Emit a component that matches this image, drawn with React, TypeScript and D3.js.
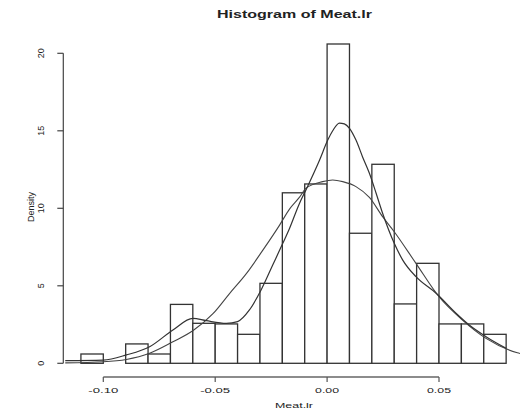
import React from 'react';
import * as d3 from 'd3';

// histogram bins (left edges, width 0.01) and densities
const binStarts = [-0.11, -0.10, -0.09, -0.08, -0.07, -0.06, -0.05, -0.04, -0.03, -0.02, -0.01, 0.0, 0.01, 0.02, 0.03, 0.04, 0.05, 0.06, 0.07];
const binWidth = 0.01;
const densities = [0.6, 0, 1.25, 0.6, 3.8, 2.58, 2.54, 1.87, 5.16, 11.0, 11.57, 20.6, 8.39, 12.84, 3.83, 6.45, 2.54, 2.54, 1.87];

// kernel density curve
const kdeX = [-0.117, -0.1, -0.0897, -0.0793, -0.0689, -0.06, -0.054, -0.045, -0.04, -0.0347, -0.0295, -0.0243, -0.0198, -0.0168, -0.0124, -0.0094, -0.0034, 0.0003, 0.0025, 0.0055, 0.0077, 0.01, 0.0129, 0.0159, 0.0189, 0.0219, 0.0248, 0.03, 0.0338, 0.0397, 0.0487, 0.0576, 0.0635, 0.071, 0.08];
const kdeY = [0.17, 0.21, 0.54, 1.07, 2.15, 2.9, 2.75, 2.58, 2.69, 3.44, 4.73, 6.34, 7.74, 8.7, 10.3, 11.2, 13.1, 14.4, 15.0, 15.5, 15.45, 15.16, 14.4, 13.3, 12.26, 10.97, 9.68, 7.74, 6.66, 5.59, 4.52, 3.23, 2.47, 1.72, 0.97];

// smooth fitted curve
const fitX = [-0.117, -0.1, -0.0897, -0.0793, -0.0689, -0.06, -0.051, -0.0436, -0.036, -0.0287, -0.0213, -0.0168, -0.0124, -0.0094, -0.002, 0.0025, 0.007, 0.0129, 0.0189, 0.0248, 0.03, 0.0397, 0.05, 0.0605, 0.071, 0.085, 0.0876];
const fitY = [0.03, 0.1, 0.25, 0.65, 1.39, 2.1, 3.2, 4.5, 5.8, 7.3, 8.9, 9.95, 10.7, 11.3, 11.72, 11.83, 11.72, 11.4, 10.7, 9.46, 8.49, 6.45, 4.3, 2.79, 1.61, 0.68, 0.58];

const xTicks = [-0.1, -0.05, 0.0, 0.05];
const xTickLabels = ['-0.10', '-0.05', '0.00', '0.05'];
const yTicks = [0, 5, 10, 15, 20];

const font = '"Liberation Sans", Arial, Helvetica, sans-serif';

export default function App() {
  const width = 520;
  const height = 408;

  const x = d3.scaleLinear().domain([-0.1, 0.05]).range([103.3, 439]);
  const y = d3.scaleLinear().domain([0, 20]).range([363.3, 53.3]);

  const line = d3.line<[number, number]>()
    .x(d => x(d[0]))
    .y(d => y(d[1]))
    .curve(d3.curveMonotoneX);

  const kdePath = line(kdeX.map((v, i) => [v, kdeY[i]] as [number, number])) || '';
  const fitPath = line(fitX.map((v, i) => [v, fitY[i]] as [number, number])) || '';

  const axisX = 63.3;
  const axisY = 377;

  return (
    <svg
      width={width}
      height={height}
      style={{ position: 'absolute', left: 0, top: 0, background: '#fff' }}
      fontFamily={font}
    >
      <rect x={0} y={0} width={width} height={height} fill="#fff" />

      {/* title */}
      <text x={294.5} y={18.3} textAnchor="middle" fontWeight="bold" fontSize={10}
        textLength={155} lengthAdjust="spacingAndGlyphs" fill="#222">
        Histogram of Meat.lr
      </text>

      {/* bars */}
      {binStarts.map((b, i) => (
        <rect
          key={i}
          x={x(b)}
          y={y(densities[i])}
          width={x(b + binWidth) - x(b)}
          height={y(0) - y(densities[i])}
          fill="#fff"
          stroke="#333"
          strokeWidth={1.3}
        />
      ))}

      {/* curves */}
      <path d={fitPath} fill="none" stroke="#444" strokeWidth={1.1} />
      <path d={kdePath} fill="none" stroke="#333" strokeWidth={1.2} />

      {/* y axis */}
      <line x1={axisX} x2={axisX} y1={y(0)} y2={y(20)} stroke="#444" strokeWidth={1.2} />
      {yTicks.map(t => (
        <g key={t}>
          <line x1={axisX} x2={axisX - 6} y1={y(t)} y2={y(t)} stroke="#444" strokeWidth={1.2} />
          <text transform={`translate(43.5,${y(t)}) rotate(-90)`} textAnchor="middle"
            fontSize={9} fill="#222">{t}</text>
        </g>
      ))}
      <text transform={`translate(33.5,207) rotate(-90)`} textAnchor="middle" fontSize={9} fill="#222">
        Density
      </text>

      {/* x axis */}
      <line x1={x(-0.1)} x2={x(0.05)} y1={axisY} y2={axisY} stroke="#666" strokeWidth={1.3} />
      {xTicks.map((t, i) => (
        <g key={t}>
          <line x1={x(t)} x2={x(t)} y1={axisY} y2={axisY + 5} stroke="#555" strokeWidth={1.2} />
          <text x={x(t)} y={393} textAnchor="middle" fontSize={7.5} fill="#222"
            textLength={xTickLabels[i].length * 6} lengthAdjust="spacingAndGlyphs">
            {xTickLabels[i]}
          </text>
        </g>
      ))}
      <text x={294} y={407.5} textAnchor="middle" fontSize={7.5} fill="#222"
        textLength={38} lengthAdjust="spacingAndGlyphs">
        Meat.lr
      </text>
    </svg>
  );
}
